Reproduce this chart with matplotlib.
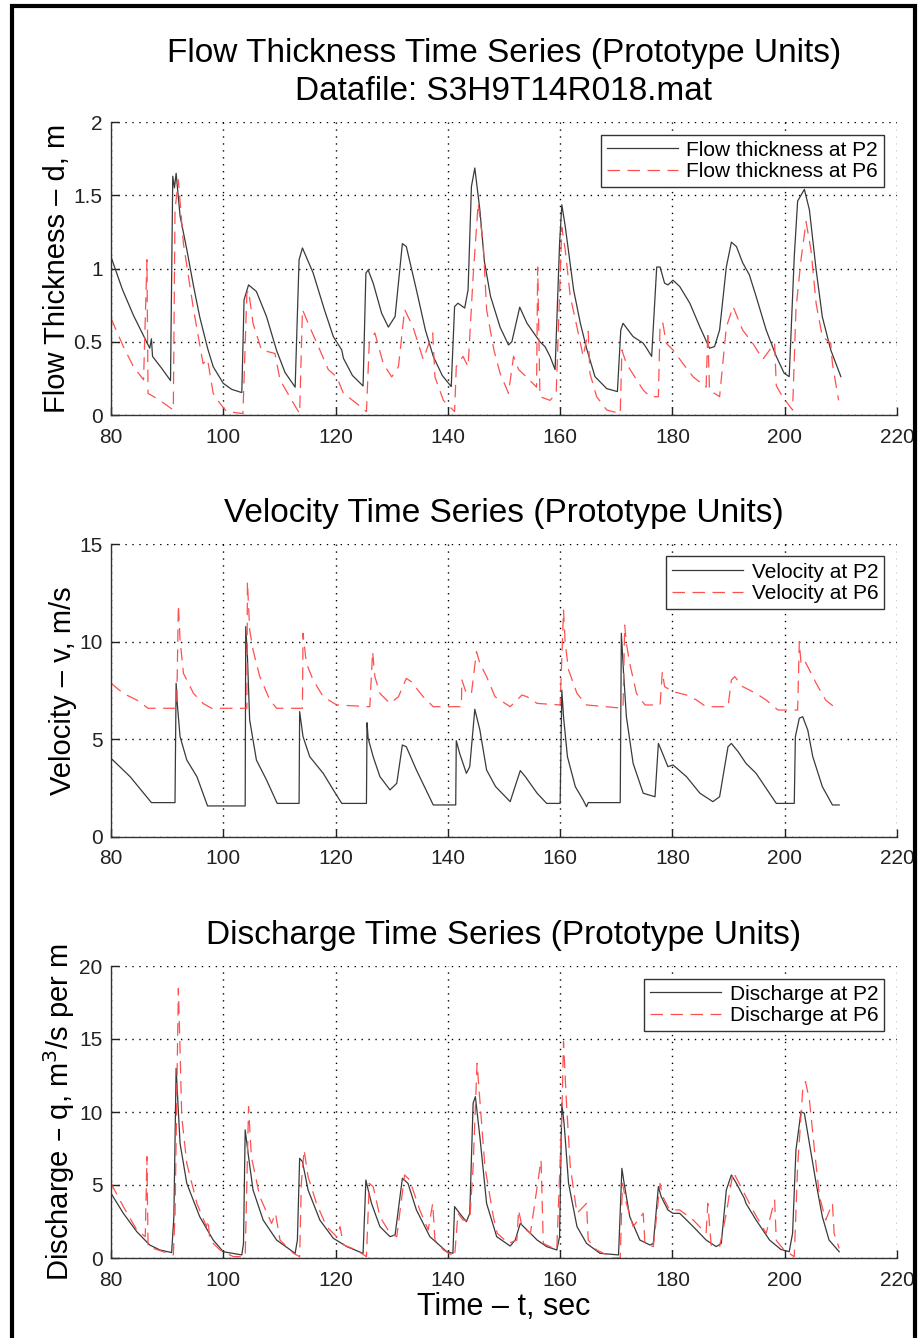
import matplotlib
matplotlib.use("Agg")
import matplotlib.pyplot as plt
from matplotlib.patches import Rectangle

plt.rcParams['font.family'] = ['Liberation Sans Narrow', 'Liberation Sans', 'DejaVu Sans']

# ---------------- data ----------------
xticks = [80, 100, 120, 140, 160, 180, 200, 220]

# Flow thickness, P2
d2_t = [80, 82.0, 84.0, 86.9, 87.2, 87.4, 89.0, 90.6, 91.0, 91.3, 91.6, 92.3, 93.5, 94.7, 95.8, 97.2,
        98.2, 100.0, 101.5, 103.3,
        103.7, 104.5, 105.9, 107.7, 109.5, 111.0, 112.8, 113.5, 114.1, 116.0, 118.0, 119.6, 121.1,
        121.4, 123.0, 124.9,
        125.4, 125.8, 126.7, 128.2, 129.4, 130.6, 131.9, 132.6, 134.4, 136.0, 137.4, 139.0, 140.6,
        141.2, 141.8, 143.0, 143.6, 144.2, 144.8, 145.7, 146.5, 147.6, 149.3, 150.8, 151.4, 152.8,
        154.1, 156.4, 157.3, 158.2, 159.1, 159.9, 160.3, 160.9, 162.4, 163.6, 164.7, 166.2, 168.3,
        170.2, 170.8, 171.2, 173.0, 174.8, 175.4, 176.3, 177.2, 177.8, 178.6, 179.2, 180.1, 181.3,
        183.1, 184.9, 186.6, 187.5, 188.4, 189.6, 190.5, 191.4, 192.5, 193.7, 194.9, 196.7, 198.5,
        199.9, 200.8, 201.7, 202.3, 203.5, 204.4, 205.6, 206.7, 208.2, 210.0]
d2_v = [1.08, 0.86, 0.68, 0.456, 0.52, 0.40, 0.32, 0.235, 1.63, 1.55, 1.65, 1.36, 1.13, 0.88, 0.67, 0.456,
        0.33, 0.216, 0.175, 0.153,
        0.786, 0.888, 0.843, 0.672, 0.44, 0.29, 0.19, 1.06, 1.14, 0.97, 0.72, 0.535, 0.444,
        0.387, 0.27, 0.198,
        0.968, 0.99, 0.90, 0.695, 0.60, 0.672, 1.17, 1.15, 0.854, 0.58, 0.40, 0.27, 0.194,
        0.74, 0.763, 0.73, 0.854, 1.56, 1.686, 1.40, 1.05, 0.81, 0.60, 0.478, 0.50, 0.736,
        0.626, 0.50, 0.467, 0.40, 0.31, 1.17, 1.435, 1.29, 0.854, 0.626, 0.456, 0.262, 0.18,
        0.16, 0.58, 0.626, 0.535, 0.49, 0.456, 0.40, 1.01, 1.01, 0.90, 0.888, 0.92, 0.877,
        0.763, 0.60, 0.456, 0.467, 0.58, 1.01, 1.18, 1.15, 1.04, 0.957, 0.81, 0.58, 0.40,
        0.285, 0.262, 1.08, 1.46, 1.54, 1.40, 0.99, 0.67, 0.444, 0.262]

# Flow thickness, P6
d6_t = [80, 82.2, 84.0, 85.8, 86.4, 86.6, 88.7, 91.1, 91.4, 92.0, 92.9, 94.7, 96.4, 97.2, 98.2,
        99.4, 100.6, 103.5, 104.2, 104.5, 105.3, 106.8, 109.2, 110.1, 112.5, 113.6,
        114.1, 115.4, 117.2, 118.7, 120.2, 121.4, 123.7, 125.5, 126.0, 127.0, 128.5, 130.0, 131.2,
        132.3, 133.8, 135.6, 137.3, 137.7, 139.2, 141.2, 141.5, 142.7, 143.6, 144.5, 145.4, 146.3,
        146.9, 148.2, 149.3, 150.8, 151.7, 152.6, 154.0, 155.8, 156.0, 156.4, 158.2, 159.3,
        160.3, 160.9, 161.8, 163.0, 164.1, 165.0, 165.3, 166.5, 168.3, 170.7,
        171.0, 171.8, 173.3, 174.8, 176.0, 177.5, 177.8, 178.3, 178.9, 180.1, 181.9, 183.7, 186.0,
        186.3, 186.6, 188.4, 189.6, 190.8, 192.5, 194.3, 196.1, 198.2, 198.5, 199.6, 201.4,
        202.0, 202.9, 203.8, 204.7, 205.6, 206.7, 208.2, 208.5, 209.6]
d6_v = [0.66, 0.467, 0.33, 0.24, 1.06, 0.148, 0.10, 0.034, 1.40, 1.605, 1.17, 0.72, 0.35, 0.38, 0.148,
        0.08, 0.023, 0.01, 0.83, 0.85, 0.626, 0.444, 0.42, 0.24, 0.08, 0.01,
        0.72, 0.60, 0.444, 0.31, 0.26, 0.148, 0.08, 0.023, 0.49, 0.56, 0.35, 0.26, 0.33,
        0.72, 0.60, 0.38, 0.56, 0.26, 0.10, 0.023, 0.33, 0.40, 0.33, 0.945, 1.446, 1.17,
        0.72, 0.444, 0.285, 0.148, 0.40, 0.31, 0.26, 0.19, 1.01, 0.125, 0.10, 0.148,
        1.28, 1.13, 0.81, 0.60, 0.40, 0.57, 0.285, 0.125, 0.034, 0.01,
        0.444, 0.35, 0.26, 0.17, 0.125, 0.125, 0.626, 0.626, 0.49, 0.444, 0.35, 0.26, 0.19,
        0.57, 0.17, 0.125, 0.60, 0.74, 0.58, 0.49, 0.38, 0.49, 0.20, 0.125, 0.034,
        0.72, 1.06, 1.32, 1.12, 0.76, 0.535, 0.49, 0.35, 0.10]

# Velocity, P2
v2_t = [80, 83.4, 87.2, 91.4, 91.6, 91.8, 92.3, 93.5, 95.3, 97.2, 103.9,
        104.0, 104.3, 104.7, 105.9, 107.7, 109.6, 113.5, 113.6, 114.2, 115.4, 117.8, 119.6, 121.1,
        125.5, 125.6, 125.8, 126.7, 127.9, 129.7, 130.9, 131.9, 132.6, 134.4, 137.4, 141.4,
        141.5, 142.1, 143.3, 143.9, 144.8, 145.7, 146.9, 148.5, 151.1, 152.9, 153.8, 155.9,
        157.6, 160.0, 160.3, 160.6, 161.3, 162.7, 164.1, 164.7, 165.0, 170.7,
        170.9, 171.3, 171.8, 173.0, 174.8, 176.9, 177.5, 178.0, 179.2, 180.1, 182.5, 184.9,
        187.2, 188.4, 189.9, 190.5, 191.7, 193.1, 194.9, 196.7, 198.5, 201.7,
        201.9, 202.6, 203.2, 204.1, 205.0, 206.7, 208.5, 209.7]
v2_v = [4.03, 3.09, 1.76, 1.76, 7.87, 6.84, 5.14, 3.94, 3.09, 1.59, 1.59,
        10.77, 9.23, 5.99, 3.94, 2.92, 1.72, 1.72, 6.42, 5.14, 4.11, 3.26, 2.41, 1.72,
        1.72, 5.85, 5.05, 4.11, 3.09, 2.41, 2.75, 4.71, 4.62, 3.43, 1.64, 1.64,
        4.93, 4.28, 3.26, 3.60, 6.54, 5.48, 3.43, 2.58, 1.81, 3.40, 3.09, 2.24,
        1.72, 1.72, 7.52, 6.16, 4.11, 2.58, 1.89, 1.55, 1.76, 1.76,
        10.43, 8.38, 6.16, 3.77, 2.24, 2.06, 4.79, 4.45, 3.60, 3.69, 3.09, 2.24,
        1.81, 2.06, 4.62, 4.79, 4.37, 3.77, 3.26, 2.49, 1.72, 1.72,
        5.14, 6.08, 6.16, 5.48, 4.11, 2.58, 1.64, 1.64]

# Velocity, P6
v6_t = [80, 82.2, 84.6, 86.6, 91.7, 92.0, 92.3, 92.9, 94.7, 96.4, 97.9, 104.2,
        104.3, 104.7, 105.3, 106.5, 108.3, 109.5, 114.1, 114.2, 114.8, 116.0, 117.8, 120.2, 126.1,
        126.6, 127.0, 127.9, 129.7, 131.2, 132.6, 133.5, 135.6, 137.4, 142.4,
        142.5, 143.3, 144.2, 145.1, 145.7, 146.9, 148.4, 151.1, 153.2, 154.1, 155.9, 160.0,
        160.6, 160.9, 161.5, 163.0, 164.7, 171.2, 171.5, 171.8, 172.4, 173.6, 175.1, 177.8,
        178.2, 178.6, 180.1, 182.5, 184.3, 186.0, 189.9, 190.5, 191.1, 192.5, 194.9, 196.7,
        198.8, 202.3, 202.6, 202.9, 203.5, 204.4, 205.6, 207.3, 209.1, 209.7]
v6_v = [7.87, 7.35, 7.01, 6.59, 6.59, 11.88, 10.09, 8.38, 7.35, 6.84, 6.59, 6.59,
        13.07, 10.60, 9.57, 8.21, 7.01, 6.59, 6.59, 10.43, 8.89, 8.04, 7.18, 6.76, 6.67,
        9.49, 8.21, 7.35, 6.84, 7.18, 8.12, 7.95, 7.18, 6.67, 6.67,
        8.04, 7.35, 7.35, 9.49, 8.89, 8.21, 7.18, 6.67, 7.27, 7.18, 6.84, 6.76,
        11.62, 9.91, 8.55, 7.35, 6.76, 6.59, 10.85, 9.91, 8.89, 7.35, 6.76, 6.76,
        8.46, 7.70, 7.44, 7.27, 7.01, 6.67, 6.67, 8.04, 8.21, 7.70, 7.35, 7.01,
        6.50, 6.50, 10.00, 8.89, 9.06, 8.55, 7.87, 7.01, 6.59, 6.54]

# Discharge, P2
q2_t = [80, 82.2, 84.6, 86.9, 88.7, 90.8, 91.2, 91.6, 91.8, 92.3, 93.5, 95.8, 98.2, 100.0, 103.3,
        103.6, 103.9, 104.5, 105.3, 107.1, 109.5, 112.8, 113.2, 113.6, 114.1, 115.1, 117.2, 119.6,
        122.0, 124.9, 125.4, 125.6, 126.4, 127.9, 129.7, 130.6, 131.9, 132.9, 134.4, 136.8, 139.8,
        140.9, 141.2, 142.1, 143.3, 143.9, 144.5, 144.9, 145.7, 146.9, 148.7, 151.1, 152.0, 152.9,
        154.1, 155.9, 157.6, 159.4, 159.9, 160.3, 160.7, 161.5, 163.0, 164.7, 167.1, 170.4,
        171.0, 171.4, 172.4, 174.2, 176.0, 176.6, 177.5, 178.0, 179.2, 180.1, 181.3, 183.7, 186.0,
        187.8, 188.7, 189.6, 190.5, 191.4, 192.8, 193.1, 194.9, 197.3, 199.3, 200.8,
        201.4, 202.0, 202.9, 203.5, 204.4, 205.6, 206.7, 207.9, 209.7]
q2_v = [4.43, 3.06, 1.80, 0.89, 0.55, 0.37, 2.83, 12.99, 11.5, 7.85, 5.11, 2.83, 1.23, 0.43, 0.21,
        1.00, 8.77, 6.94, 4.66, 2.60, 1.23, 0.32, 1.23, 6.83, 6.60, 4.66, 2.60, 1.35,
        0.78, 0.32, 5.34, 5.00, 3.74, 2.15, 1.46, 1.58, 5.46, 5.11, 3.29, 1.46, 0.43,
        0.32, 3.52, 3.06, 2.49, 3.06, 10.6, 11.05, 8.31, 3.74, 1.46, 0.82, 1.23, 2.37,
        1.92, 1.23, 0.78, 0.55, 1.46, 10.6, 9.22, 5.11, 2.15, 1.00, 0.32, 0.21,
        6.14, 5.11, 2.83, 1.23, 0.89, 1.00, 4.89, 4.20, 3.29, 3.06, 3.06, 2.15, 1.23,
        0.78, 1.00, 4.66, 5.69, 5.11, 4.09, 3.74, 2.60, 1.23, 0.59, 0.43,
        1.69, 7.40, 10.02, 9.91, 7.85, 5.11, 2.83, 1.23, 0.43]

# Discharge, P6
q6_t = [80, 82.2, 84.6, 86.1, 86.4, 86.6, 89.3, 91.1, 91.4, 92.0, 92.3, 92.6, 93.5, 95.3, 97.0,
        97.3, 97.6, 99.4, 101.8, 103.9, 104.2, 104.5, 105.0, 106.5, 108.6, 109.3, 110.1, 112.5,
        113.6, 113.9, 114.4, 115.1, 116.6, 118.4, 120.2, 120.8, 121.4, 123.7, 125.5, 126.0, 126.7,
        127.9, 129.7, 130.9, 132.3, 133.2, 135.0, 136.5, 137.3, 137.7, 139.2, 141.2, 141.8, 142.7,
        143.9, 144.5, 145.2, 145.7, 146.6, 148.1, 148.8, 150.8, 152.3, 152.6, 153.2, 154.7, 156.6,
        157.0, 159.4, 160.3, 160.6, 161.1, 161.8, 163.0, 164.7, 165.0, 166.5, 169.5, 170.7,
        171.1, 171.8, 173.0, 174.8, 175.1, 176.6, 177.8, 178.3, 179.5, 181.3, 183.7, 186.0, 186.3,
        186.9, 188.4, 189.6, 190.8, 192.5, 194.3, 196.7, 198.2, 198.5, 199.9, 201.7,
        202.3, 203.2, 203.7, 204.4, 205.3, 206.2, 207.3, 208.5, 208.8, 209.7]
q6_v = [5.11, 3.52, 1.92, 1.46, 6.94, 0.78, 0.43, 0.21, 2.83, 18.47, 14.25, 9.68, 6.48, 3.74, 2.15,
        2.60, 1.23, 0.55, 0.09, 0.09, 5.11, 10.36, 6.94, 4.20, 2.37, 3.06, 1.23, 0.32,
        0.09, 5.11, 7.40, 5.57, 3.74, 2.15, 1.46, 2.15, 0.90, 0.55, 0.09, 5.11, 4.89,
        2.83, 1.69, 1.46, 5.69, 5.34, 3.29, 1.92, 3.74, 1.23, 0.55, 0.09, 3.06, 2.60,
        2.60, 6.26, 13.33, 10.82, 6.26, 2.83, 1.69, 1.00, 1.23, 3.29, 2.15, 1.69, 6.71,
        1.00, 0.55, 9.68, 14.82, 10.82, 6.26, 3.06, 3.74, 1.23, 0.55, 0.0, 0.0,
        5.11, 3.74, 2.15, 3.06, 1.00, 0.78, 5.11, 4.20, 3.29, 3.29, 2.60, 1.69, 3.74,
        0.89, 0.78, 3.06, 5.91, 4.66, 3.29, 1.69, 3.97, 1.20, 0.55, 0.09,
        6.26, 11.5, 12.08, 10.82, 7.40, 4.20, 2.60, 3.74, 1.69, 0.66]

panels = [
    dict(t2=d2_t, v2=d2_v, t6=d6_t, v6=d6_v, ylim=(0, 2), yticks=[0, 0.5, 1, 1.5, 2],
         yticklabels=['0', '0.5', '1', '1.5', '2'],
         title='Flow Thickness Time Series (Prototype Units)\nDatafile: S3H9T14R018.mat',
         ylabel='Flow Thickness – d, m',
         labels=['Flow thickness at P2', 'Flow thickness at P6']),
    dict(t2=v2_t, v2=v2_v, t6=v6_t, v6=v6_v, ylim=(0, 15), yticks=[0, 5, 10, 15],
         yticklabels=['0', '5', '10', '15'],
         title='Velocity Time Series (Prototype Units)',
         ylabel='Velocity – v, m/s',
         labels=['Velocity at P2', 'Velocity at P6']),
    dict(t2=q2_t, v2=q2_v, t6=q6_t, v6=q6_v, ylim=(0, 20), yticks=[0, 5, 10, 15, 20],
         yticklabels=['0', '5', '10', '15', '20'],
         title='Discharge Time Series (Prototype Units)',
         ylabel='Discharge – q, m$^3$/s per m',
         labels=['Discharge at P2', 'Discharge at P6']),
]

# ---------------- figure ----------------
fig = plt.figure(figsize=(9.2, 13.38), dpi=100)
positions = [
    [111/920, 1 - 415/1338, 786/920, 293/1338],
    [111/920, 1 - 837/1338, 786/920, 293/1338],
    [111/920, 1 - 1258/1338, 786/920, 292/1338],
]

for pos, p in zip(positions, panels):
    ax = fig.add_axes(pos)
    ax.plot(p['t2'], p['v2'], color='#3a3a3a', lw=0.9, label=p['labels'][0])
    ax.plot(p['t6'], p['v6'], color='#ff5050', lw=0.9, dashes=(10, 6), label=p['labels'][1])
    ax.set_xlim(80, 220)
    ax.set_ylim(*p['ylim'])
    ax.set_xticks(xticks)
    ax.set_xticklabels([str(v) for v in xticks])
    ax.set_yticks(p['yticks'])
    ax.set_yticklabels(p['yticklabels'])
    ax.grid(True, linestyle=(0, (1, 4)), color='black', lw=1.0)
    ax.spines['top'].set_visible(False)
    ax.spines['right'].set_visible(False)
    for s in ('left', 'bottom'):
        ax.spines[s].set_color('#333333')
        ax.spines[s].set_linewidth(1.0)
    ax.tick_params(direction='in', length=6, width=1, labelsize=15, colors='#222222')
    ax.tick_params(axis='x', pad=9)
    ax.tick_params(axis='y', pad=6)
    ax.set_title(p['title'], fontsize=24, pad=16, linespacing=1.3)
    ax.set_ylabel(p['ylabel'], fontsize=21, labelpad=2)
    leg = ax.legend(loc='upper right', fontsize=15, frameon=True, fancybox=False,
                    edgecolor='#333333', framealpha=1, borderpad=0.3, handlelength=3.4,
                    handletextpad=0.4, labelspacing=0.1, borderaxespad=0.6)
    leg.get_frame().set_linewidth(1.0)

fig.axes[-1].set_xlabel('Time – t, sec', fontsize=22, labelpad=2)

# outer frame
fig.patches.append(Rectangle((12/920, -0.05), (915 - 12)/920, 1.05 - 5.5/1338,
                             transform=fig.transFigure, fill=False, edgecolor='black',
                             lw=3.0, zorder=10))

fig.savefig('out.png', dpi=100)
